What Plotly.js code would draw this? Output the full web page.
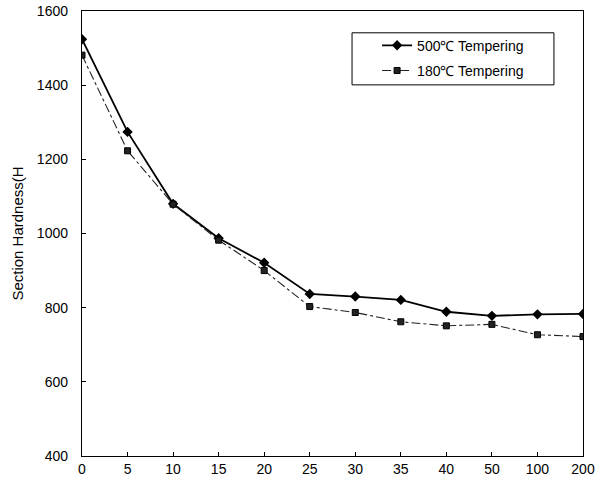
<!DOCTYPE html>
<html>
<head>
<meta charset="utf-8">
<script src="https://cdn.plot.ly/plotly-3.0.1.min.js"></script>
<style>html,body{margin:0;padding:0;background:#fff;}#chart{width:600px;height:492px;}</style>
</head>
<body>
<div id="chart"></div>
<script>
const categories = ["0","5","10","15","20","25","30","35","40","50","100","200"];
const temper500 = [1524,1274,1080,987,921,837,830,821,789,778,782,783];
const temper180 = [1481,1223,1079,982,900,803,787,762,751,755,727,722];
const seriesNames = ["500℃ Tempering","180℃ Tempering"];
const yTicks = [400,600,800,1000,1200,1400,1600];

const traces = [
  {
    x: categories, y: temper500, name: seriesNames[0], type: "scatter", mode: "lines+markers",
    legendgroup: "a",
    line: {color: "#000", width: 1.8},
    marker: {symbol: "diamond", size: 8, color: "#000"}
  },
  {
    x: categories, y: temper180, name: seriesNames[1], type: "scatter", mode: "lines+markers",
    legendgroup: "b",
    line: {color: "#222", width: 1.1, dash: "dashdot"},
    marker: {symbol: "square", size: 6, color: "#222", line: {color: "#000", width: 1}}
  }
];

const layout = {
  width: 600, height: 492,
  margin: {l: 82, r: 17, t: 11, b: 36},
  paper_bgcolor: "#fff", plot_bgcolor: "#fff",
  font: {family: "Liberation Sans, Arial, sans-serif", size: 14, color: "#000"},
  showlegend: true,
  legend: {
    x: 0.589, y: 0.958, xanchor: "left", yanchor: "top",
    bgcolor: "rgba(0,0,0,0)", borderwidth: 0,
    traceorder: "grouped", tracegroupgap: 4,
    font: {size: 14, color: "#000"}
  },
  shapes: [{
    type: "rect", xref: "paper", yref: "paper",
    x0: 0.539, x1: 0.942, y0: 0.834, y1: 0.951,
    line: {color: "#000", width: 1}, fillcolor: "rgba(0,0,0,0)", layer: "above"
  }],
  xaxis: {
    type: "category", range: [0, 11],
    showline: true, mirror: true, linecolor: "#000", linewidth: 1.2,
    ticks: "inside", ticklen: 4, tickcolor: "#000",
    showgrid: false, zeroline: false,
    tickfont: {size: 14}
  },
  yaxis: {
    range: [400, 1600], tickvals: yTicks,
    showline: true, mirror: true, linecolor: "#000", linewidth: 1.2,
    ticks: "inside", ticklen: 4, tickcolor: "#000",
    showgrid: false, zeroline: false,
    tickfont: {size: 14},
    ticklabelstandoff: 10,
    title: {text: "Section Hardness(H", font: {size: 15}, standoff: 9}
  }
};

Plotly.newPlot("chart", traces, layout, {displayModeBar: false, staticPlot: true});
</script>
</body>
</html>
